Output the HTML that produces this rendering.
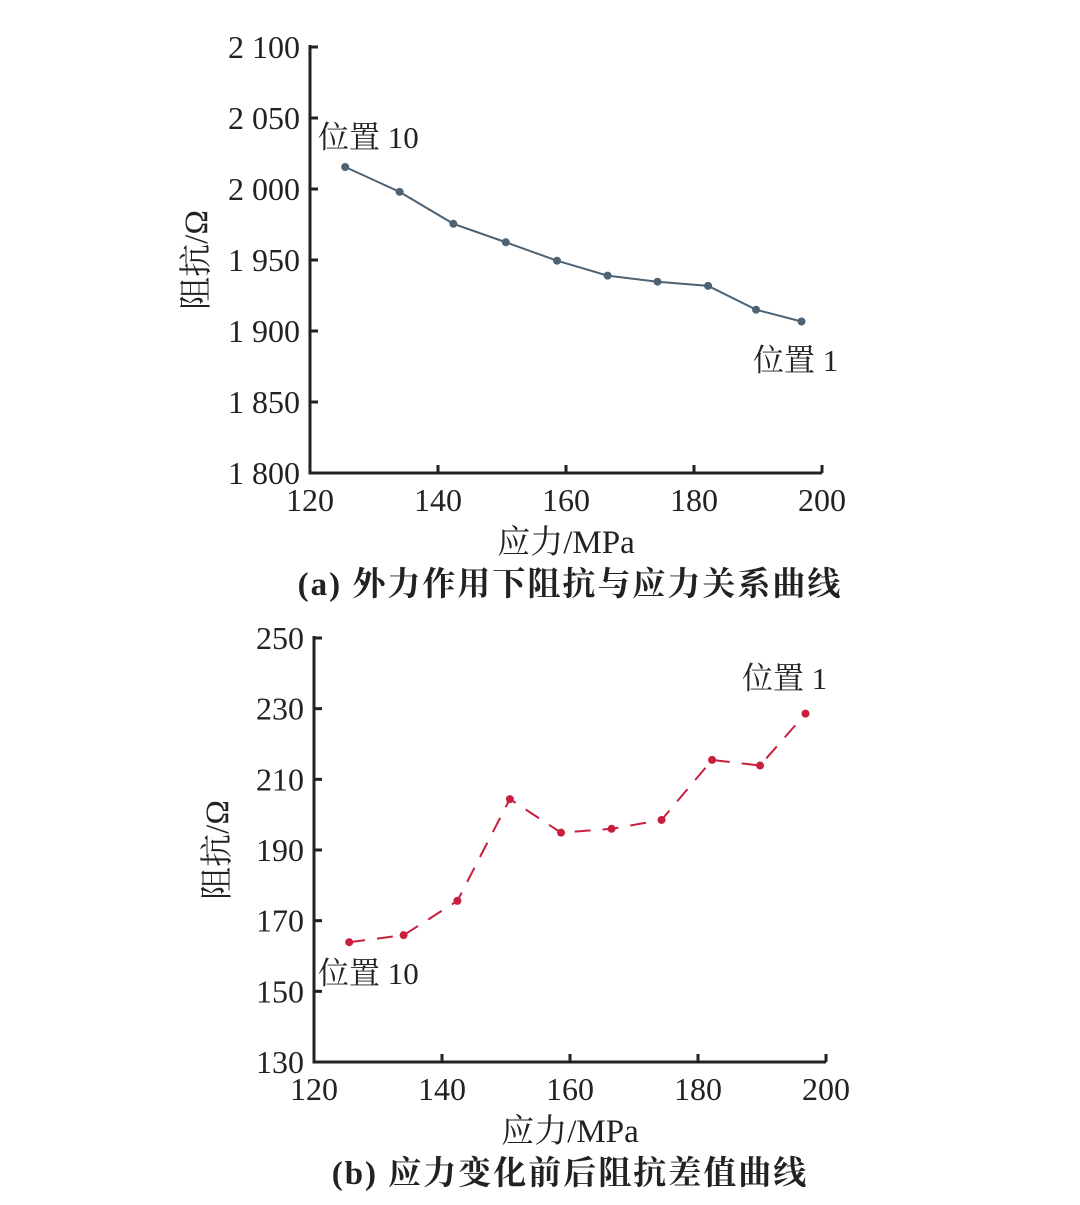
<!DOCTYPE html>
<html><head><meta charset="utf-8"><style>
body{margin:0;background:#fff;}
svg text{font-family:"Liberation Serif","Noto Serif CJK SC",serif;fill:#222;}
</style></head><body>
<svg width="1080" height="1200" xmlns="http://www.w3.org/2000/svg">
<g id="ga"></g>
<g id="gb"></g>
</svg>
<script>
const xA=[125.5,134,142.4,150.6,158.6,166.5,174.3,182.2,189.7,196.8];
const yA=[2015.5,1998,1975.5,1962.5,1949.5,1939,1934.7,1931.8,1915,1906.7];
const yTicksA=[1800,1850,1900,1950,2000,2050,2100];
const yTickLabelsA=["1 800","1 850","1 900","1 950","2 000","2 050","2 100"];
const xTicks=[120,140,160,180,200];
const xB=[125.5,134,142.4,150.6,158.6,166.5,174.3,182.2,189.7,196.8];
const yB=[163.9,165.9,175.6,204.4,194.9,196.0,198.5,215.5,213.9,228.6];
const yTicksB=[130,150,170,190,210,230,250];
const NS="http://www.w3.org/2000/svg";
function mk(p,t,a){const e=document.createElementNS(NS,t);for(const k in a)e.setAttribute(k,a[k]);p.appendChild(e);return e;}
function draw(g,o){
 const sx=v=>o.x0+(v-120)/80*(o.x1-o.x0);
 const sy=v=>o.y0-(v-o.ymin)/(o.ymax-o.ymin)*(o.y0-o.y1);
 let e=mk(g,'path',{d:`M${o.x0},${o.y1-2}V${o.y0}H${o.x1}`,stroke:'#222','stroke-width':3,fill:'none'});
 
 
 o.yt.forEach((v,i)=>{
  mk(g,'line',{x1:o.x0,x2:o.x0+8,y1:sy(v),y2:sy(v),stroke:'#222','stroke-width':3});
  const t=mk(g,'text',{x:o.x0-10,y:sy(v)+11,'text-anchor':'end','font-size':32});
  t.textContent=o.yl[i];
  
  
 });
 xTicks.forEach(v=>{
  mk(g,'line',{x1:sx(v),x2:sx(v),y1:o.y0,y2:o.y0-8,stroke:'#222','stroke-width':3});
  const t=mk(g,'text',{x:sx(v),y:o.y0+38,'text-anchor':'middle','font-size':32});
  t.textContent=v;
  
  
 });
 const pts=o.xs.map((x,i)=>sx(x)+','+sy(o.ys[i])).join(' ');
 e=mk(g,'polyline',{points:pts,fill:'none',stroke:o.c,'stroke-width':2,'stroke-dasharray':o.dash||'none'});
 
 
 o.xs.forEach((x,i)=>{
  const c=mk(g,'circle',{cx:sx(x),cy:sy(o.ys[i]),r:4,fill:o.c});
  
  
 });
 let t=mk(g,'text',{x:(o.x0+o.x1)/2,y:o.y0+80,'text-anchor':'middle','font-size':33});
 t.textContent='应力/MPa';
 
 
 t=mk(g,'text',{transform:`translate(${o.ytx},${(o.y0+o.y1)/2}) rotate(-90)`,'text-anchor':'middle','font-size':33});
 t.textContent='阻抗/Ω';
 
 
 t=mk(g,'text',{x:570,y:o.y0+122,'text-anchor':'middle','font-size':33,'font-weight':'bold','letter-spacing':2});
 t.textContent=o.cap;
 
 
 o.ann.forEach(a=>{
  const t=mk(g,'text',{x:a[0],y:a[1],'font-size':31});
  t.textContent=a[2];
  
  
 });
}
draw(document.getElementById('ga'),{x0:310,x1:822,y0:473,y1:47,ymin:1800,ymax:2100,yt:yTicksA,yl:yTickLabelsA,xs:xA,ys:yA,c:'#4d6273',ytx:207,cap:'(a) 外力作用下阻抗与应力关系曲线',ann:[[318,148,'位置 10'],[753,371,'位置 1']]});
draw(document.getElementById('gb'),{x0:314,x1:826,y0:1062,y1:638,ymin:130,ymax:250,yt:yTicksB,yl:yTicksB.map(String),xs:xB,ys:yB,c:'#c8203c',dash:'16 12',ytx:228,cap:'(b) 应力变化前后阻抗差值曲线',ann:[[742,689,'位置 1'],[318,984,'位置 10']]});
</script>
</body></html>
